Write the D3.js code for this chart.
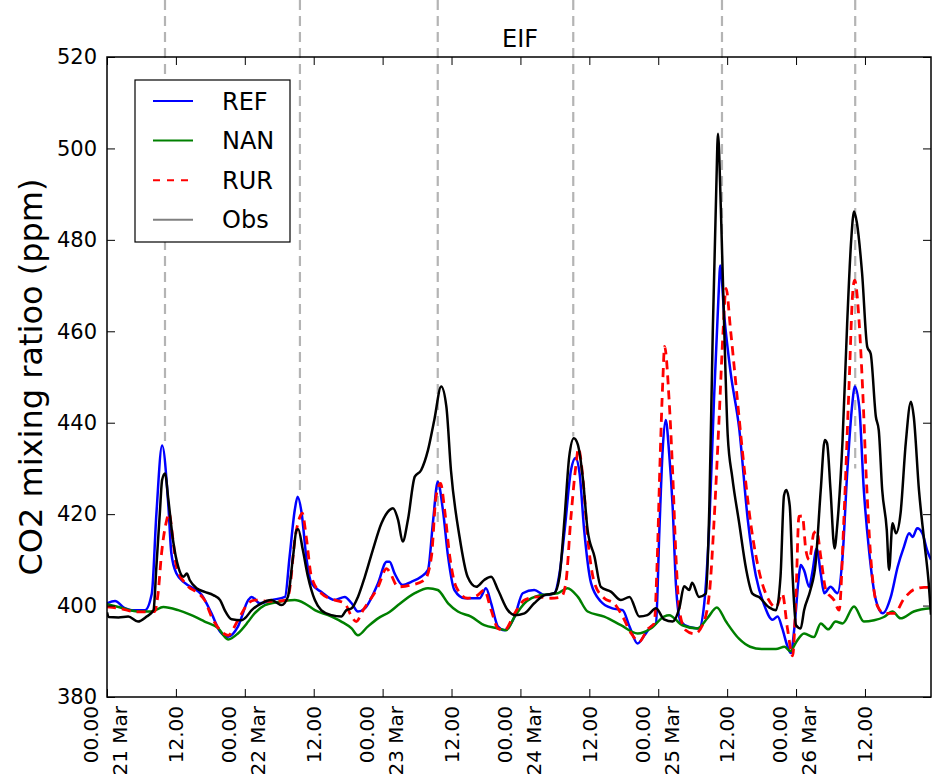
<!DOCTYPE html>
<html>
<head>
<meta charset="utf-8">
<script src="https://cdn.jsdelivr.net/npm/d3@7"></script>
<style>
  body { margin: 0; background: #fff; }
  text { font-family: "DejaVu Sans", sans-serif; fill: #000; }
</style>
</head>
<body>
<div id="chart"></div>
<script>
// all series: [hours since 21 Mar 00.00, CO2 ppm]
var refSeries = [[0,400.5],[1.4,401],[3,399.5],[4.3,399],[6.6,399],[7.8,402.6],[8.6,420],[9.6,435],[10.7,421.6],[11.2,411.5],[12.1,407],[13.6,404.9],[16.5,402.3],[18.2,398.3],[19.7,394.3],[21.1,393.2],[22.8,395.4],[24.6,401.2],[25.2,401.9],[26.6,400.5],[28.6,401.2],[31,401.9],[31.8,410.7],[32.7,420.9],[33.2,423.8],[33.9,420.2],[34.7,410.7],[35.6,404.9],[37.3,403],[39.7,401.2],[41.4,401.9],[42.6,400.5],[43.7,398.7],[44.9,399.4],[47.2,404.9],[48.7,409.6],[49.2,409.6],[50.1,407],[51.5,404.5],[53,405.2],[54.7,406.3],[55.9,407.8],[56.8,418.7],[57.6,427.1],[58.5,420.9],[59.4,410.7],[60.5,403.4],[62.3,401.6],[64.9,401.6],[66,403.8],[66.9,400.5],[68.1,395.4],[69.2,394.6],[71,397.6],[72.4,402.7],[74.4,403.4],[76.2,402.3],[77.9,402.7],[78.8,407],[79.7,416.5],[80.8,429.6],[81.6,432.3],[82.3,428.9],[83.1,416.5],[84.3,404.9],[86,400.9],[88,399.4],[89.8,399],[91,395.4],[92.4,391.7],[93.6,393.5],[94.7,395.4],[95.6,396.1],[96.2,416.5],[96.8,434.7],[97.3,440.6],[97.9,433.3],[98.5,421.8],[99.1,404.2],[99.9,396.5],[101.4,395.3],[103.1,395],[104,400.3],[104.9,418],[105.7,444.8],[106.5,467.8],[106.8,474.4],[107.5,463.3],[108.6,451],[110.1,438.7],[111.6,418.7],[113,406.5],[114.4,400.3],[115.9,396.9],[116.8,397.6],[117.6,395],[118.5,391.1],[119.1,389.6],[119.7,395],[120.5,406.5],[120.8,408.9],[121.4,407.7],[122.3,404.1],[122.8,407],[123.6,412.5],[124.3,407],[124.9,402.7],[126,404.1],[127.2,402.7],[128.1,410.7],[128.9,428.9],[129.8,444.2],[130.2,447.9],[131,443.5],[131.8,425.3],[132.7,412.2],[133.9,401.2],[135.1,398.3],[136.5,401.9],[137.7,408.5],[138.8,412.9],[139.7,415.8],[140.3,415],[141.1,416.9],[142,415.8],[142.8,412.2],[143.5,410]];

var nanSeries = [[0,400.3],[2,399.7],[5.4,398.7],[7.8,398.7],[9.8,399.7],[12.4,399],[14.7,397.9],[17,396.5],[19.4,395],[21.1,392.6],[22.8,393.9],[24.6,396.5],[25.7,398.3],[27.5,400.1],[29.8,400.8],[32.7,401.2],[34.4,400.5],[36.2,399],[38.5,397.9],[40.8,396.5],[42.6,395],[43.7,393.5],[45.4,395.4],[47.2,397.2],[49.2,398.6],[50.7,400.1],[53.6,402.7],[55.9,403.8],[57.6,403.4],[59.4,400.5],[61.1,398.7],[63.4,397.6],[65.7,395.7],[68.1,395],[69.5,394.6],[71,397.6],[72.7,400.5],[75.6,402.3],[78.5,402.7],[80.2,403.8],[82,401.9],[83.7,398.7],[86.6,397.6],[89.5,395.7],[92.4,393.9],[94.7,395],[97,397.6],[97.9,397.9],[100.2,395.7],[102.8,395],[104.6,397.3],[106.2,399.6],[107.8,396.5],[110.1,392.7],[112,391],[114,390.5],[116.5,390.5],[118,391],[119,390],[120,392],[121.4,393.9],[123.1,393.1],[124.3,396.1],[125.6,394.8],[126.9,396.5],[128.1,396.1],[130.1,399.8],[131.8,396.5],[133.6,396.8],[135.3,397.5],[136.8,398.7],[138.2,397.2],[140.5,398.7],[143.5,399.4]];

var rurSeries = [[0,399.7],[2,399.4],[5.4,398.6],[8.3,398.7],[8.9,402.7],[9.5,411.4],[10.4,418.7],[10.8,420.2],[11.5,414.3],[12.1,408.5],[13.9,404.5],[15.9,402.7],[17,401.2],[18.2,397.6],[19.7,394.6],[21.1,393.5],[22.8,396.8],[24.6,400.5],[25.7,401.2],[28.6,400.9],[31.3,401.2],[31.8,403.4],[32.7,414.3],[33.6,419.4],[34,420.2],[34.7,415],[35.6,406.3],[37.3,402.7],[39.7,401.2],[41.4,400.5],[42.6,397.6],[43.4,396.5],[44.6,399],[47.2,404.1],[48.7,408.1],[49.2,407.4],[50.7,404.1],[53,404.5],[55.3,405.6],[56.5,410.7],[57.3,423.8],[58.1,426.7],[58.8,420.9],[59.7,410.7],[60.8,404.1],[62.8,401.6],[64.6,402.3],[65.7,403.4],[66.9,399],[68.1,395],[69.2,394.6],[71,398.3],[72.7,401.2],[75,401.9],[77.3,401.6],[79.1,401.9],[79.9,404.9],[80.8,419.4],[81.7,431.1],[82.1,434.4],[82.9,427.5],[83.7,415],[84.9,404.9],[86.6,401.6],[88.3,400.5],[89.8,397.6],[91.3,393.9],[92.7,392.1],[94.1,394.8],[95.3,396.1],[95.8,409.2],[96.3,431.1],[96.8,449.3],[97.1,456.7],[97.9,444.8],[98.5,429.5],[99.1,410.3],[99.7,398.8],[100.8,394.6],[102.3,393.8],[103.7,395.7],[104.9,402.6],[105.7,418],[106.6,441],[107.3,460.2],[107.8,469.4],[108.6,460.2],[109.5,448.7],[110.7,433.3],[112.1,418],[113.6,407.3],[115.3,401.1],[116.5,399.6],[117.6,402.6],[118.5,395],[119.4,389],[120,402.6],[120.5,419.5],[121.1,419.6],[121.7,412.2],[122.3,410],[123.1,415.8],[123.6,416.3],[124.3,410.7],[125.2,403.4],[126.6,401.2],[127.5,399],[128.3,418],[129.2,447.2],[129.9,469],[130.2,471.2],[131,461.7],[131.6,447.2],[132.2,428.9],[133,410.7],[134.2,399.8],[135.4,398.3],[137.1,398.3],[138.8,401.5],[140.5,403.5],[142.3,404],[143.5,404]];

var obsSeries = [[0,398.5],[0.3,397.5],[2,397.4],[3.7,397.6],[5.4,396.5],[6.9,397.6],[8.1,399],[8.6,408.5],[9.2,420.2],[9.6,427.5],[10.1,428.9],[10.7,423],[11.5,414.3],[12.4,408.5],[13.3,406.3],[13.9,407],[14.4,405.6],[15.6,403.8],[17,403],[18.5,402.3],[19.7,401.2],[20.5,399],[21.7,397],[23.4,396.8],[24,397.2],[25.2,399],[26.9,400.5],[28.6,401.2],[30.4,400.1],[31.5,401.9],[32.4,410.7],[33,416.5],[33.3,416.7],[34.1,412.2],[35,406.3],[36.2,401.2],[37.3,399],[39.1,397.9],[40.8,397.6],[41.7,399],[42.6,399.4],[43.7,401.9],[44.9,406.3],[46.3,412.2],[47.8,418],[49.2,420.9],[49.8,421.3],[50.7,418.7],[51.5,414],[52.4,418.7],[53.6,428.2],[54.7,429.6],[55.9,434],[57,440.6],[58.2,447.9],[59.1,443.5],[59.9,429.6],[61.4,415],[62.8,406.3],[64.3,404.1],[65.7,405.6],[66.9,406.3],[68.1,403.4],[69.8,399],[71,397.9],[72.7,398.3],[74.4,400.5],[76.2,402.3],[77.9,402.7],[78.8,406.3],[79.7,419.4],[80.5,432.6],[81.3,436.6],[82,435.2],[82.9,427.5],[83.7,416.5],[84.9,410.7],[86,404.1],[87.8,403],[89.5,401.2],[91,401.9],[92.7,397.6],[94.1,397.9],[95.6,399.4],[97,397],[98.5,396.5],[99.7,399.6],[100.5,404.2],[101.4,403.4],[101.9,405],[103.1,401.9],[104.3,402.6],[104.9,421.8],[105.5,460.2],[106.1,490.9],[106.4,503.2],[106.9,487],[107.5,460.2],[108.1,437.2],[108.9,428],[110.1,418],[111.3,408],[112.4,402.6],[113.6,401.8],[115.3,399.6],[116.5,399],[117.3,406.5],[117.9,424.1],[118.3,425.3],[118.9,421.8],[119.4,406.5],[120,395.7],[120.8,395],[121.4,399],[122.5,403.4],[123.4,409.2],[124.3,425.3],[125,436.2],[125.4,435.5],[126,425.3],[126.7,412.5],[127.2,418],[128.1,436.2],[128.9,461.7],[129.6,479.9],[130.1,486.2],[130.6,483.7],[131.5,472.7],[132.4,456.6],[133,455.1],[133.9,441.3],[134.4,438.4],[135,425.3],[135.8,416.5],[136.2,407.8],[136.8,418],[137.4,415.8],[138.2,420.2],[139.1,435.5],[140,444.6],[140.5,441.3],[141.4,425.3],[142.3,414.3],[143.1,404.9],[143.5,398]];

var seriesNames = ['REF', 'NAN', 'RUR', 'Obs'];
var seriesData = [refSeries, nanSeries, rurSeries, obsSeries];

// peak markers: hour and the ppm where the dashed line stops
var peakHours = [10.1, 33.6, 57.6, 81.2, 107.1, 130.3];
var peakEnds = [436, 424, 417, 437, 474, 430];

var yTicks = [380, 400, 420, 440, 460, 480, 500, 520];
var xTickHours = [0, 12, 24, 36, 48, 60, 72, 84, 96, 108, 120, 132];
var xTickLabels = [['00.00', '21 Mar'], ['12.00'], ['00.00', '22 Mar'], ['12.00'], ['00.00', '23 Mar'], ['12.00'],
                   ['00.00', '24 Mar'], ['12.00'], ['00.00', '25 Mar'], ['12.00'], ['00.00', '26 Mar'], ['12.00']];

var styles = {
    REF: {color: '#0000ff', dash: null, legend: '#0000ff'},
    NAN: {color: '#008000', dash: null, legend: '#008000'},
    RUR: {color: '#ff0000', dash: '9,6', legend: '#ff0000'},
    Obs: {color: '#000000', dash: null, legend: '#808080'}
};

var width = 932, height = 780;
var margin = {top: 57, right: 1, bottom: 83, left: 107};
var chartWidth = width - margin.left - margin.right;
var chartHeight = height - margin.top - margin.bottom;

var svg = d3.select('#chart').append('svg')
    .attr('width', width)
    .attr('height', height);

var g = svg.append('g')
    .attr('transform', `translate(${margin.left}, ${margin.top})`);

var xScale = d3.scaleLinear().domain([0, 143.5]).range([0, chartWidth]);
var yScale = d3.scaleLinear().domain([380, 520]).range([chartHeight, 0]);

// clip for the series
g.append('clipPath').attr('id', 'plotclip')
  .append('rect').attr('width', chartWidth).attr('height', chartHeight);

// grey dashed peak markers, they run up past the frame
g.selectAll('.peak')
    .data(peakHours)
    .enter()
    .append('line')
        .attr('class', 'peak')
        .attr('x1', (d) => xScale(d))
        .attr('x2', (d) => xScale(d))
        .attr('y1', -margin.top)
        .attr('y2', (d, i) => yScale(peakEnds[i]))
        .attr('stroke', '#b4b4b4')
        .attr('stroke-width', 2.2)
        .attr('stroke-dasharray', '10,6');

var line = d3.line()
    .x((d) => xScale(d[0]))
    .y((d) => yScale(d[1]))
    .curve(d3.curveMonotoneX);

var lines = g.append('g').attr('clip-path', 'url(#plotclip)');
seriesNames.forEach(function(name, i){
    lines.append('path')
        .datum(seriesData[i])
        .attr('fill', 'none')
        .attr('stroke', styles[name].color)
        .attr('stroke-width', name === 'RUR' ? 2.8 : 2.5)
        .attr('stroke-dasharray', styles[name].dash)
        .attr('stroke-linejoin', 'round')
        .attr('d', line);
});

// axes, ticks pointing inwards
g.append('g')
    .call(d3.axisLeft(yScale).tickValues(yTicks).tickSize(-8).tickSizeOuter(0).tickPadding(10))
    .call((a) => a.select('.domain').remove())
    .selectAll('text').style('font-size', '21px').style('font-family', '"DejaVu Sans", sans-serif');

g.append('g')
    .attr('transform', `translate(${chartWidth}, 0)`)
    .call(d3.axisRight(yScale).tickValues(yTicks).tickSize(-8).tickSizeOuter(0).tickFormat(''))
    .call((a) => a.select('.domain').remove());

g.append('g')
    .call(d3.axisTop(xScale).tickValues(xTickHours).tickSize(-8).tickSizeOuter(0).tickFormat(''))
    .call((a) => a.select('.domain').remove());

g.append('g')
    .attr('transform', `translate(0, ${chartHeight})`)
    .call(d3.axisBottom(xScale).tickValues(xTickHours).tickSize(-8).tickSizeOuter(0).tickFormat(''))
    .call((a) => a.select('.domain').remove());

g.selectAll('.tick line').attr('stroke', '#000').attr('stroke-width', 1);

// rotated two-line date labels
xTickHours.forEach(function(h, i){
    let parts = xTickLabels[i];
    let t = g.append('text')
        .attr('transform', `translate(${xScale(h)}, ${chartHeight + 9}) rotate(-90)`)
        .attr('text-anchor', 'end')
        .style('font-size', '20px');
    if (parts.length === 1){
        t.append('tspan').attr('x', 0).attr('dy', '0.36em').text(parts[0]);
    } else {
        t.append('tspan').attr('x', 0).attr('dy', '-0.43em').text(parts[0]);
        t.append('tspan').attr('x', 0).attr('dy', '1.45em').text(parts[1]);
    }
});

// frame
g.append('rect')
    .attr('width', chartWidth)
    .attr('height', chartHeight)
    .attr('fill', 'none')
    .attr('stroke', '#000')
    .attr('stroke-width', 1.5);

// title
g.append('text')
    .attr('x', chartWidth / 2 + 1)
    .attr('y', -10)
    .attr('text-anchor', 'middle')
    .style('font-size', '24px')
    .text('EIF');

// y axis label
svg.append('text')
    .attr('transform', `translate(42, ${margin.top + chartHeight / 2}) rotate(-90)`)
    .attr('text-anchor', 'middle')
    .style('font-size', '32px')
    .text('CO2 mixing ratioo (ppm)');

// legend
let legend = g.append('g').attr('transform', 'translate(28, 23)');
legend.append('rect')
    .attr('width', 155)
    .attr('height', 162)
    .attr('fill', '#fff')
    .attr('stroke', '#000')
    .attr('stroke-width', 1.2);
seriesNames.forEach(function(name, i){
    let yy = 21 + i * 39.6;
    legend.append('line')
        .attr('x1', 18).attr('x2', 58)
        .attr('y1', yy).attr('y2', yy)
        .attr('stroke', styles[name].legend)
        .attr('stroke-width', 2)
        .attr('stroke-dasharray', name === 'RUR' ? '7,7' : null);
    legend.append('text')
        .attr('x', 87)
        .attr('y', yy)
        .attr('dy', '0.36em')
        .style('font-size', '24px')
        .text(name);
});
</script>
</body>
</html>
